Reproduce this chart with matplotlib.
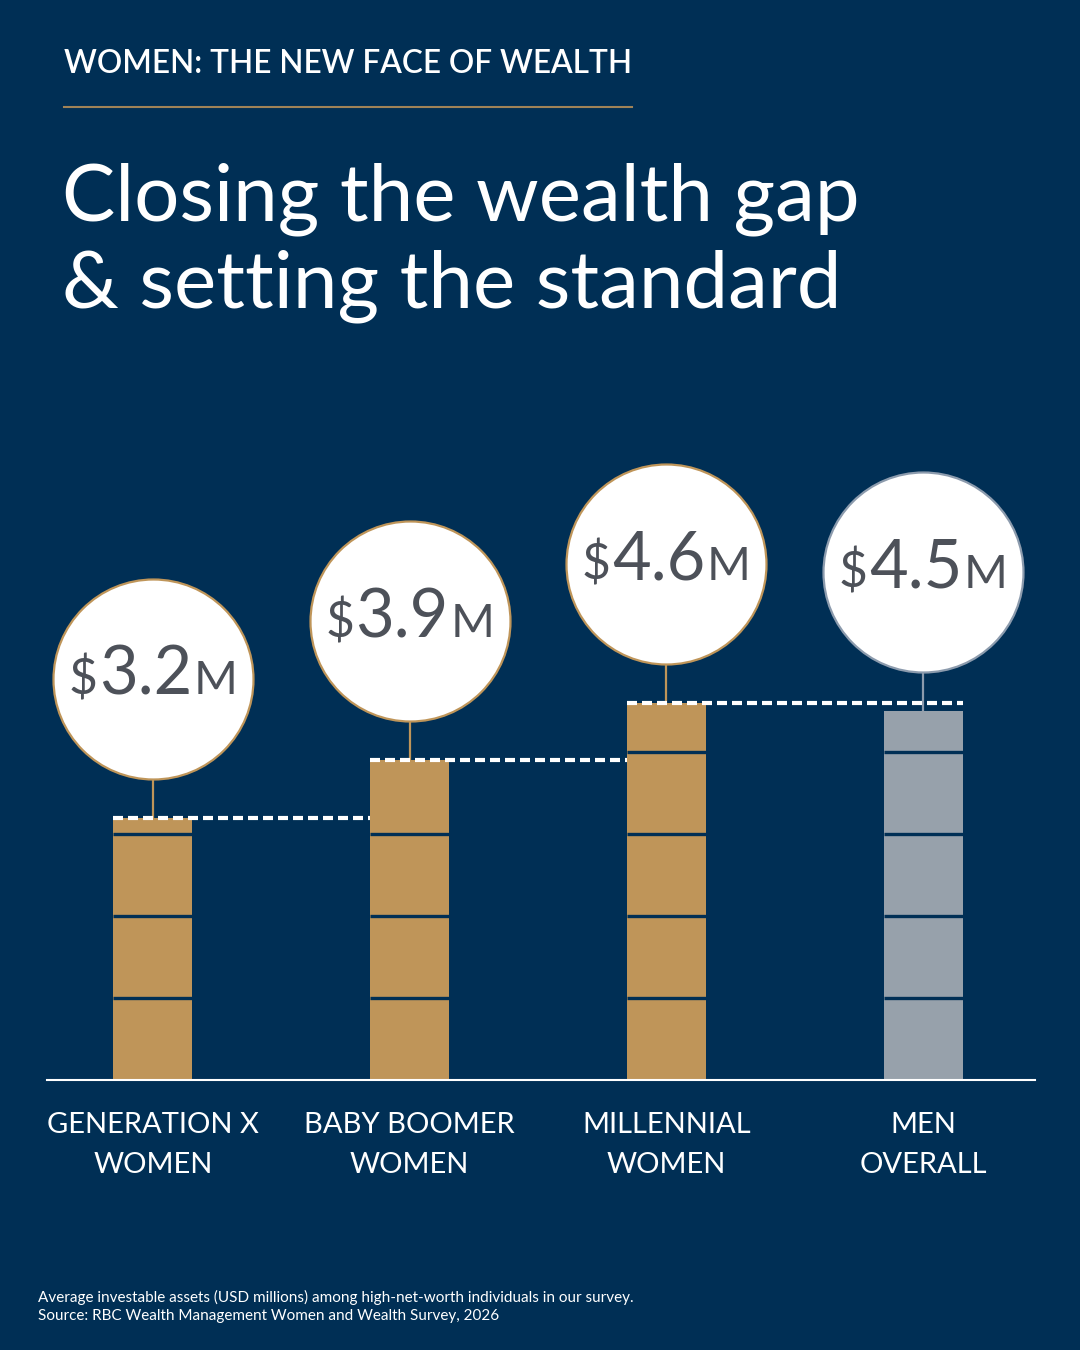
import matplotlib.pyplot as plt
from matplotlib.offsetbox import TextArea, HPacker, AnnotationBbox
from matplotlib.transforms import blended_transform_factory

# data
categories = ["GENERATION X\nWOMEN", "BABY BOOMER\nWOMEN", "MILLENNIAL\nWOMEN", "MEN\nOVERALL"]
values = [3.2, 3.9, 4.6, 4.5]
value_labels = ["3.2", "3.9", "4.6", "4.5"]
is_men = [False, False, False, True]

bg = "#002f55"
gold = "#bf9559"
grey = "#97a1ab"
men_edge = "#8c9bad"
txt_grey = "#4d5159"

W, H = 1080, 1350
fig = plt.figure(figsize=(10.8, 13.5), dpi=100, facecolor=bg)
plt.rcParams['font.family'] = ['Lato', 'DejaVu Sans']

# header
fig.text(64 / W, 1 - 64 / H, "WOMEN: THE NEW FACE OF WEALTH", color="white",
         fontsize=22.7, fontweight="semibold", va="center", ha="left")
fig.add_artist(plt.Line2D([64 / W, 632 / W], [1 - 107 / H, 1 - 107 / H],
                          color="#a08357", lw=1.5))
fig.text(62 / W, 1 - 220 / H, "Closing the wealth gap", color="white",
         fontsize=57.5, va="baseline", ha="left")
fig.text(62 / W, 1 - 307 / H, "& setting the standard", color="white",
         fontsize=57.5, va="baseline", ha="left")

# chart axes: 256.7 px per category, 82 px per $1M
ppx = 256.7
ppy = 82.0
left_px = 153 - 0.5 * ppx
ax = fig.add_axes([left_px / W, 270 / H, 4 * ppx / W, 6 * ppy / H])
ax.set_xlim(-0.5, 3.5)
ax.set_ylim(0, 6)
ax.axis("off")
ax.patch.set_alpha(0)

bw = 79 / ppx
circ_off = 139 / ppy
circ_r = 100 / ppy

for i, v in enumerate(values):
    c = grey if is_men[i] else gold
    ax.bar(i, v, width=bw, color=c, clip_on=False, zorder=2)
    # segment gaps at each whole million
    k = 1
    while k < v:
        ax.plot([i - bw / 2, i + bw / 2], [k, k], color=bg, lw=2.4,
                solid_capstyle="butt", zorder=3, clip_on=False)
        k += 1

# dashed connectors along bar tops
for i, v in enumerate(values[:-1]):
    x0 = i - bw / 2
    x1 = i + 1 - bw / 2
    if i == len(values) - 2:
        x1 = len(values) - 1 + bw / 2
    ax.plot([x0, x1], [v, v], color="white", lw=3, dashes=(2.4, 1.2),
            solid_capstyle="butt", dash_capstyle="butt", zorder=4, clip_on=False)

# circles, stems and value labels
for i, v in enumerate(values):
    ec = men_edge if is_men[i] else gold
    cy = v + circ_off
    ax.plot([i, i], [v, cy - circ_r], color=ec, lw=1.6, zorder=1, clip_on=False)
    ax.plot(i, cy, marker="o", markersize=144, markerfacecolor="white",
            markeredgecolor=ec, markeredgewidth=1.6, zorder=5, clip_on=False)
    parts = [
        TextArea("\\$", textprops=dict(color=txt_grey, fontsize=36)),
        TextArea(value_labels[i], textprops=dict(color=txt_grey, fontsize=48)),
        TextArea("M", textprops=dict(color=txt_grey, fontsize=34)),
    ]
    pack = HPacker(children=parts, align="baseline", pad=0, sep=1)
    ab = AnnotationBbox(pack, (i, cy), frameon=False, box_alignment=(0.5, 0.45),
                        zorder=6, annotation_clip=False)
    ax.add_artist(ab)

# baseline
base_x0 = (47 - left_px) / ppx - 0.5
base_x1 = (1035 - left_px) / ppx - 0.5
ax.plot([base_x0, base_x1], [0, 0], color="white", lw=1.5, zorder=4, clip_on=False)

# category labels
tr = blended_transform_factory(ax.transData, fig.transFigure)
for i, lab in enumerate(categories):
    ax.text(i, 1 - 1145 / H, lab, transform=tr, ha="center", va="center",
            color="white", fontsize=21, linespacing=1.65)

# footnote
fig.text(38 / W, 1 - 1297 / H,
         "Average investable assets (USD millions) among high-net-worth individuals in our survey.",
         color="white", fontsize=11, va="center", ha="left")
fig.text(38 / W, 1 - 1316 / H,
         "Source: RBC Wealth Management Women and Wealth Survey, 2026",
         color="white", fontsize=11, va="center", ha="left")

fig.savefig("out.png", dpi=100, facecolor=bg)
